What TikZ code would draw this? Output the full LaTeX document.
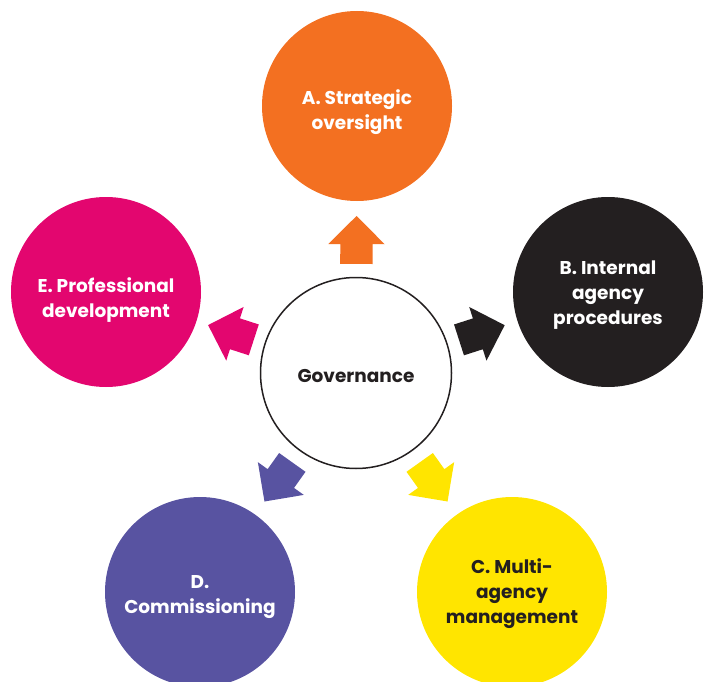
\documentclass[tikz,border=0pt]{standalone}
\usepackage{fontspec}
\setmainfont{Poppins}
\usetikzlibrary{shapes.arrows}
\definecolor{govOrange}{HTML}{F37021}
\definecolor{govBlack}{HTML}{231F20}
\definecolor{govYellow}{HTML}{FFE500}
\definecolor{govPurple}{HTML}{5853A1}
\definecolor{govPink}{HTML}{E3066F}
\begin{document}
\begin{tikzpicture}[x=1pt, y=-1pt,
    spoketext/.style={font=\bfseries\fontsize{18.5}{25}\selectfont, align=center, text=white},
    spoke/.style={circle, fill=#1, minimum size=190pt, inner sep=0pt},
    push/.style={single arrow, fill=#1, minimum height=48pt, minimum width=56pt,
      text height=16pt, text depth=16pt, text width=0pt,
      single arrow head extend=12pt, single arrow tip angle=90, inner sep=0pt,
      pos=0.38, sloped, allow upside down}]
  \useasboundingbox (0,0) rectangle (709,682);
  % hub
  \node[circle, draw=govBlack, line width=1.5pt, minimum size=191pt,
    label={[spoketext, text=govBlack, yshift=-3pt]center:Governance}] (gov) at (356,373) {};
  % outer circles
  \node[spoke=govOrange, label={[spoketext, yshift=-6pt]center:A. Strategic\\oversight}] (a) at (357,106) {};
  \node[spoke=govBlack, label={[spoketext, yshift=-3pt]center:B. Internal\\agency\\procedures}] (b) at (608,292) {};
  \node[spoke=govYellow, label={[spoketext, text=govBlack, yshift=-2pt]center:C. Multi-\\agency\\management}] (c) at (512,592) {};
  \node[spoke=govPurple, label={[spoketext, yshift=-5pt]center:D.\\Commissioning}] (d) at (200,592) {};
  \node[spoke=govPink, label={[spoketext, yshift=-8pt]center:E. Professional\\development}] (e) at (106,292) {};
  % arrows
  \path (gov) -- node[push=govOrange] {} (a);
  \path (gov) -- node[push=govBlack] {} (b);
  \path (gov) -- node[push=govYellow] {} (c);
  \path (gov) -- node[push=govPurple] {} (d);
  \path (gov) -- node[push=govPink] {} (e);
\end{tikzpicture}
\end{document}
